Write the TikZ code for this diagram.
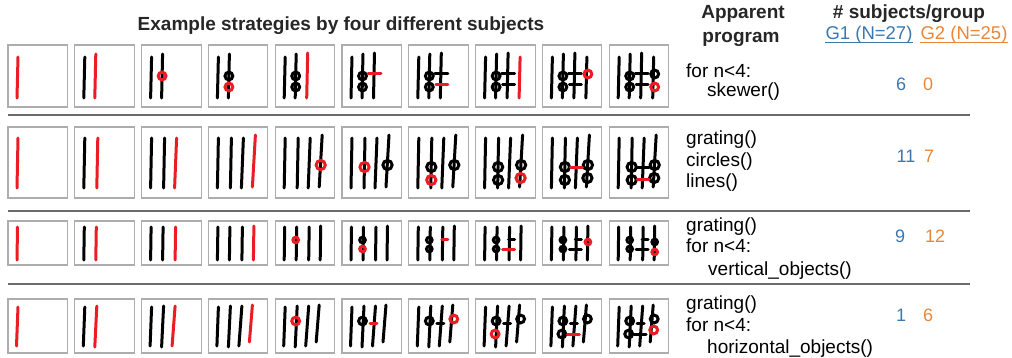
\documentclass[tikz,border=0pt]{standalone}
\usepackage{fontspec}
\setmainfont{Liberation Sans}

\definecolor{gone}{HTML}{3B78B1}
\definecolor{gtwo}{HTML}{E8873A}
\definecolor{newink}{HTML}{EC1C24}
\definecolor{frame}{HTML}{ADADAD}
\definecolor{rulegray}{HTML}{6B6B6B}

\tikzset{
  pen/.style={line width=3pt, line cap=round},
  panel/.style={draw=frame, line width=1.1pt},
  rowrule/.style={draw=rulegray, line width=1.4pt},
  head/.style={anchor=base, inner sep=0pt, text=black!85, font=\fontsize{19}{21}\selectfont\bfseries},
  group/.style={anchor=base, inner sep=0pt, text depth=3pt, font=\fontsize{18.5}{21}\selectfont},
  prog/.style={anchor=base west, inner sep=0pt, font=\fontsize{19}{21}\selectfont},
  tally/.style={anchor=base, inner sep=0pt, font=\fontsize{18}{21}\selectfont}
}

% one row of ten panels: top, height, strokes (L = line, C = circle)
\newcommand{\panelrow}[3]{%
  \foreach \k in {1,...,10}{
    \begin{scope}[shift={({8+66.8*(\k-1)},#1)}]
      \draw[panel] (0,0) rectangle (59.5,#2);
      \foreach \ty/\xa/\ya/\xb/\yb [count=\s] in {#3}{
        \ifnum\s>\k\relax\else
          \ifnum\s=\k\relax\def\ink{newink}\else\def\ink{black}\fi
          \if\ty L\draw[pen,\ink] (\xa,\ya) -- (\xb,\yb);\else\draw[pen,\ink] (\xa,\ya) circle (\xb);\fi
        \fi
      }
    \end{scope}
  }
}

\begin{document}
\begin{tikzpicture}[x=1pt, y=-1pt]
  \useasboundingbox (0,0) rectangle (1012,357);

  \node[head] (title) at (341,30) {Example strategies by four different subjects};
  \node[head] (apparent) at (743,18) {Apparent};
  \node[head] (program) at (741,42) {program};
  \node[head] (subjects) at (909,18) {\# subjects/group};
  \node[group, text=gone] (gone) at (869,39) {G1 (N=27)};
  \node[group, text=gtwo] (gtwo) at (964,39) {G2 (N=25)};
  \draw[gone, line width=1.1pt] (gone.south west) -- (gone.south east);
  \draw[gtwo, line width=1.1pt] (gtwo.south west) -- (gtwo.south east);

  \panelrow{45}{62}{L/10/12/9/53, L/21/9/20/53, C/20.5/31/3.9/0, C/20.5/42/3.9/0,
    L/32.5/8/31.5/53, L/26/28/39/28, L/27/39/39/39, L/44.5/12/43.5/53,
    C/45.5/29/3.9/0, C/45.5/42/3.9/0}
  \panelrow{127}{71}{L/10/11/9/61, L/23/11/22/61, L/35/11/33/61, L/47/8/44/60,
    C/45.5/38/4.6/0, C/22.5/40/4.6/0, C/22.5/53/4.6/0, C/45/51/4.6/0,
    L/28/40/40/40, L/28/52/40/52}
  \panelrow{221}{44}{L/9.5/6/9/39, L/21.5/6/21/39, L/34/6/33.5/39, L/45.5/5/45/39,
    C/20.5/19/2.8/0, C/20.5/28/2.8/0, L/33/18/39/18, L/27/28/39/28,
    C/45.5/21/2.8/0, C/45.5/31/2.8/0}
  \panelrow{299}{54}{L/10/8/8.5/47, L/22/7/20/48, L/33.5/7/30.5/47, L/44/6/41/43,
    C/20.5/22/3.9/0, L/28/24/35/24, C/45/20/3.9/0, C/19.5/35/3.9/0,
    L/25/35/37/35, C/44.5/31/3.9/0}

  \draw[rowrule] (8,115) -- (970,115);
  \draw[rowrule] (8,211) -- (970,211);
  \draw[rowrule] (8,284) -- (970,284);

  \node[prog] (p-1-1) at (686,77) {for n<4:};
  \node[prog] (p-1-2) at (707,96) {skewer()};
  \node[prog] (p-2-1) at (686,144) {grating()};
  \node[prog] (p-2-2) at (686,166) {circles()};
  \node[prog] (p-2-3) at (686,187) {lines()};
  \node[prog] (p-3-1) at (686,231) {grating()};
  \node[prog] (p-3-2) at (686,252) {for n<4:};
  \node[prog] (p-3-3) at (708,275) {vertical\_objects()};
  \node[prog] (p-4-1) at (686,309) {grating()};
  \node[prog] (p-4-2) at (686,331) {for n<4:};
  \node[prog] (p-4-3) at (707,353) {horizontal\_objects()};

  \node[tally, text=gone] (n-1-1) at (901,90) {6};
  \node[tally, text=gtwo] (n-1-2) at (928,90) {0};
  \node[tally, text=gone] (n-2-1) at (906,162) {11};
  \node[tally, text=gtwo] (n-2-2) at (929,162) {7};
  \node[tally, text=gone] (n-3-1) at (900,242) {9};
  \node[tally, text=gtwo] (n-3-2) at (935,242) {12};
  \node[tally, text=gone] (n-4-1) at (901,321) {1};
  \node[tally, text=gtwo] (n-4-2) at (928,321) {6};
\end{tikzpicture}
\end{document}
